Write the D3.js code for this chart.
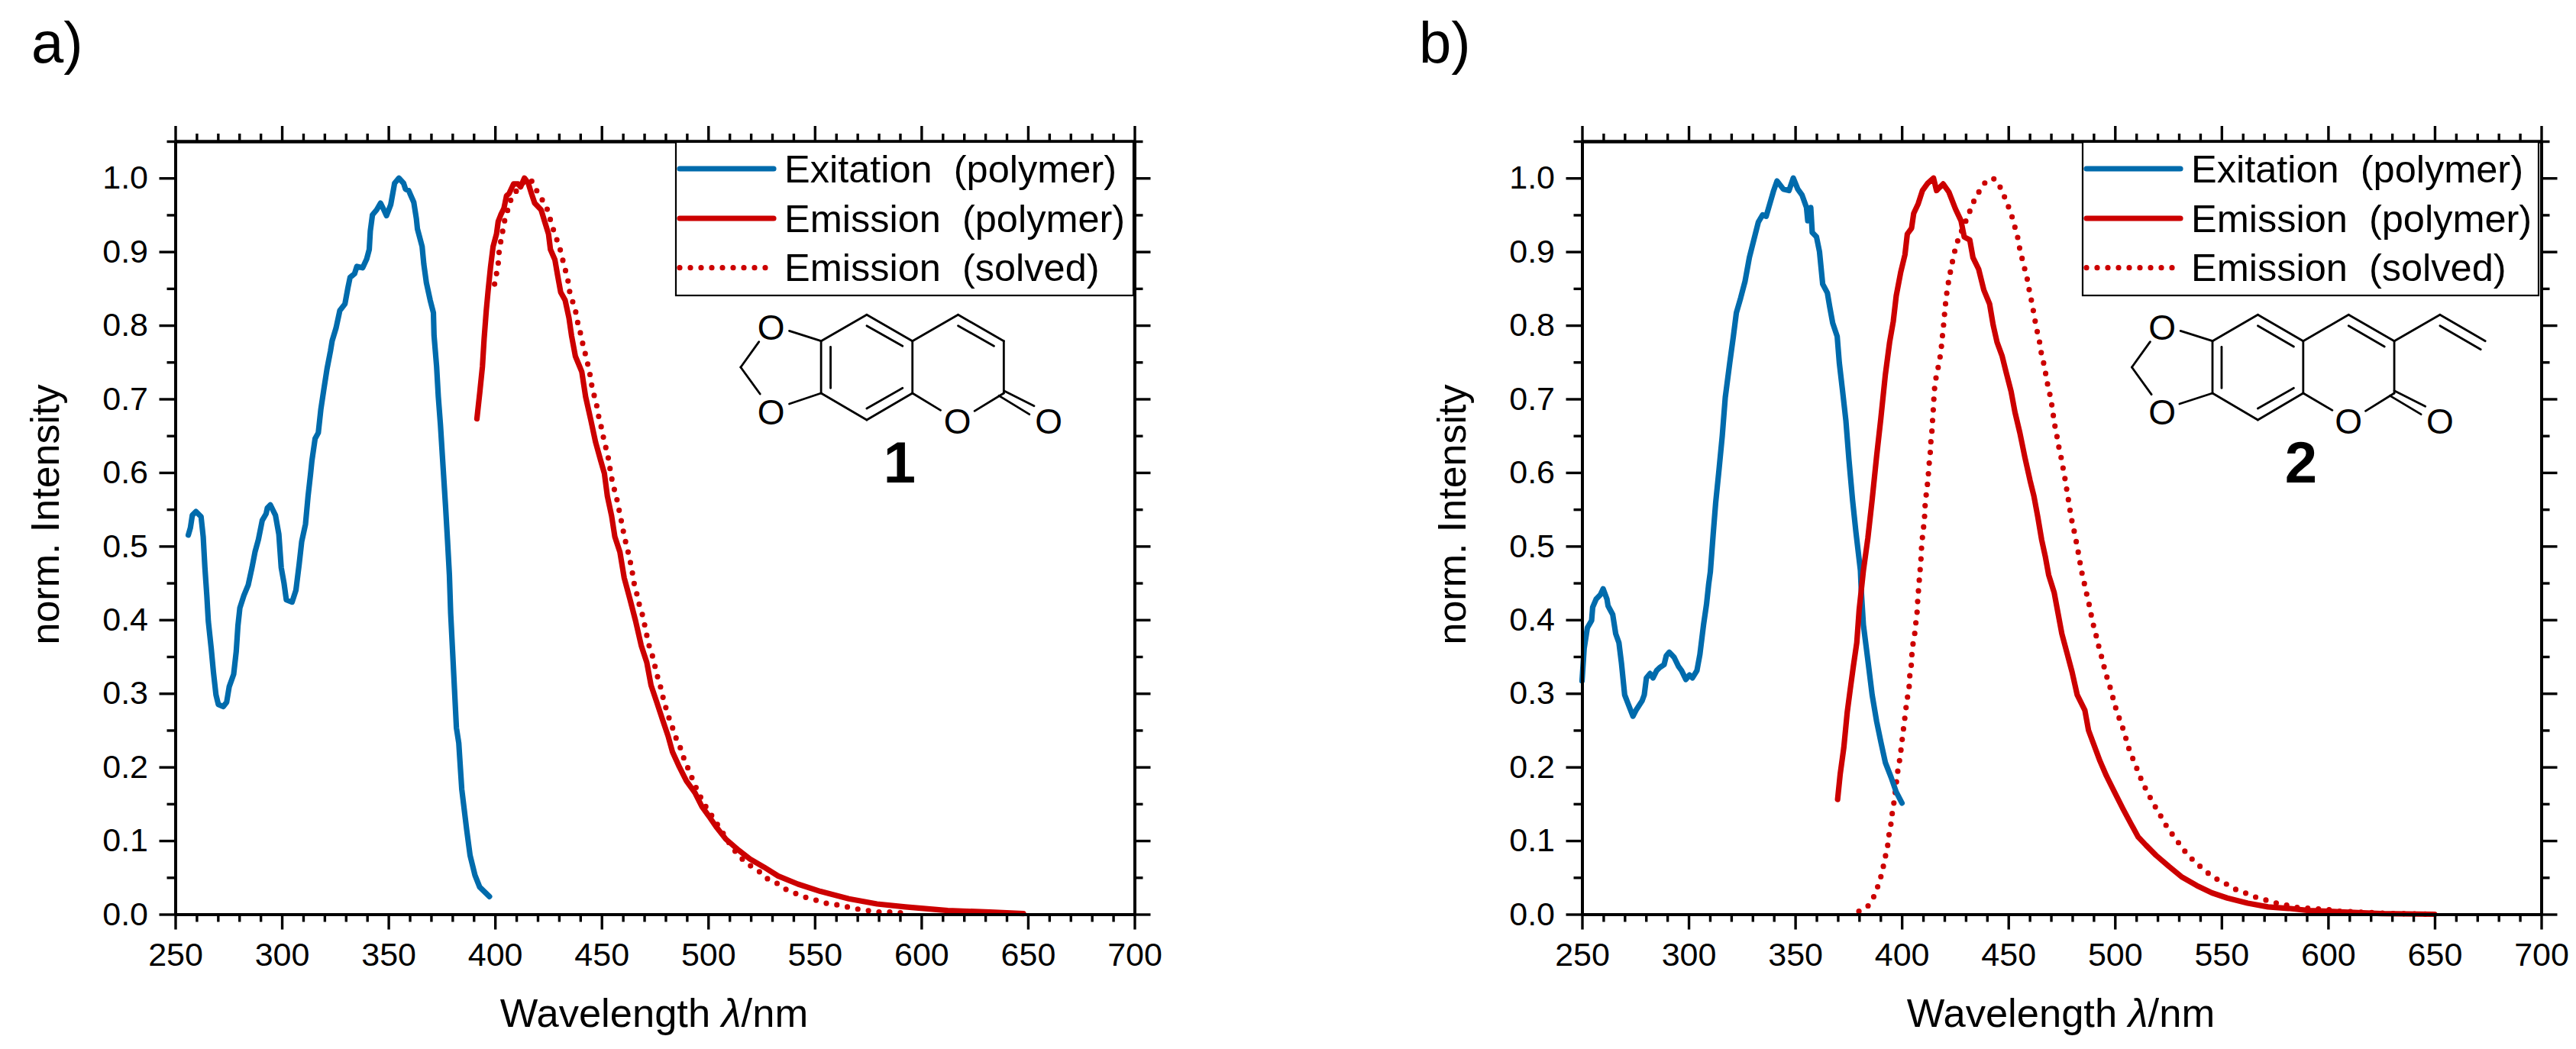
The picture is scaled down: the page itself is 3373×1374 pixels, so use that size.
<!DOCTYPE html>
<html><head><meta charset="utf-8">
<script src="https://cdnjs.cloudflare.com/ajax/libs/d3/7.8.5/d3.min.js"></script>
<style>html,body{margin:0;padding:0;background:#fff}svg{display:block}text{font-family:"Liberation Sans",Arial,sans-serif;fill:#000}</style>
</head><body><svg id="c" width="3373" height="1374"></svg>
<script>
// ---------- data: [wavelength nm, normalised intensity] ----------
const excitation1=[[256.1,.515],[257.1,.525],[258,.542],[259.7,.547],[262.1,.54],[263.1,.513],[263.9,.471],[264.8,.433],[265.5,.398],[266.9,.36],[267.9,.329],[269.1,.298],[270.2,.285],[272.5,.282],[274.1,.288],[275.3,.309],[277.4,.326],[278.6,.357],[279.4,.392],[280.3,.416],[282.2,.433],[284.2,.447],[286,.471],[287.4,.492],[289,.509],[290.8,.535],[292.6,.544],[293.2,.552],[294.6,.556],[297,.542],[298.6,.516],[299.7,.471],[301,.45],[302.1,.427],[304.8,.424],[306.6,.44],[308.1,.475],[309.3,.506],[311.1,.53],[312.3,.568],[313.5,.599],[314.1,.616],[315.6,.646],[317.1,.654],[318.3,.686],[319.7,.713],[321.2,.741],[322.8,.765],[323.6,.779],[325.4,.796],[327.2,.82],[329.6,.829],[331,.851],[332,.865],[334.1,.87],[335.2,.88],[337.9,.878],[339.8,.89],[341,.903],[341.5,.928],[342.5,.95],[344.5,.957],[346.3,.966],[347.5,.959],[349.1,.949],[351.1,.964],[352.9,.993],[354.9,1],[357.1,.993],[358,.985],[359.5,.983],[361.9,.967],[363.1,.945],[363.6,.931],[365.8,.907],[366.6,.883],[367.8,.858],[369.6,.834],[371.1,.817],[371.4,.786],[372.6,.744],[373.4,.703],[374.4,.665],[375.3,.623],[376.8,.554],[377.7,.509],[378.6,.461],[379.2,.409],[380.1,.357],[381,.305],[381.9,.253],[383,.2325],[384.4,.17],[386.7,.115],[388.3,.08],[390.6,.053],[392.8,.037],[397.4,.024]];
const emission1=[[391.5,.673],[392.9,.71],[394.1,.744],[394.9,.782],[395.9,.82],[396.8,.848],[397.9,.879],[399.1,.907],[400.7,.924],[401.5,.941],[402.7,.95],[404.2,.959],[405.4,.976],[406.6,.979],[408.7,.992],[410.8,.992],[412,.988],[413.8,1],[415.6,.993],[417.1,.979],[418.6,.966],[421.6,.957],[423.4,.94],[425.1,.924],[426,.903],[428.1,.889],[429.3,.869],[430.8,.845],[432.9,.834],[434.7,.81],[435.9,.786],[437.7,.758],[440.7,.737],[442.5,.703],[444.9,.672],[447.2,.641],[449.6,.616],[451.3,.599],[452.7,.568],[454.7,.541],[456.2,.513],[458.6,.492],[460.6,.457],[463.3,.428],[465.9,.399],[468.6,.365],[471.2,.342],[473.2,.311],[475.9,.288],[478.5,.265],[481.2,.242],[483.2,.221],[486.5,.2],[489.8,.181],[493.8,.165],[497.1,.146],[500.4,.133],[503.7,.119],[508.3,.102],[514.3,.087],[519.6,.075],[526.2,.064],[532.8,.052],[542.1,.041],[552.7,.031],[566,.021],[579.2,.014],[592.5,.01],[612.4,.005],[632.2,.003],[647.9,.001]];
const solved1=[[399.8,.856],[400.7,.87],[401.5,.884],[401.9,.899],[402.7,.914],[403.6,.928],[404.5,.942],[405.8,.955],[407.2,.969],[409.6,.981],[411.6,.988],[414,.997],[417,.997],[420.1,.98],[421.6,.973],[424,.962],[425.5,.948],[426.9,.934],[428.4,.921],[430.3,.906],[431.5,.892],[432.7,.878],[434.1,.864],[434.7,.849],[436.1,.835],[437.7,.821],[438.5,.807],[439.8,.793],[440.9,.778],[442.1,.764],[443.3,.75],[444.4,.736],[445.2,.721],[446.3,.707],[447.6,.693],[448.4,.679],[449.6,.665],[450.6,.651],[451.8,.636],[453,.622],[453.8,.608],[454.6,.594],[455.7,.58],[457,.566],[458,.552],[459,.538],[460,.523],[461,.509],[462.2,.495],[463.3,.481],[464.3,.467],[465,.452],[466.2,.44],[467.2,.425],[468.8,.411],[469.9,.397],[471,.382],[471.9,.368],[473.5,.355],[474.8,.34],[475.9,.326],[477.4,.312],[478.5,.298],[479.8,.284],[481.2,.27],[482.9,.257],[484.5,.242],[486.5,.23],[488,.216],[490,.202],[492,.188],[494,.174],[496.1,.161],[498.5,.148],[501,.137],[511.6,.089],[515.6,.076],[519.2,.067],[523.6,.059],[527.3,.049],[531.8,.043],[536.4,.034],[541.2,.028],[545.8,.023],[550.7,.019],[555.4,.015],[560,.013],[565.1,.01],[570.2,.007],[574.9,.005],[579.9,.003],[585,.003],[589.8,.002],[594.9,.002]];
const excitation2=[[250,.317],[251,.361],[252.5,.389],[254.5,.399],[255,.417],[256.6,.428],[258.6,.434],[259.9,.442],[261.7,.428],[262.2,.419],[264.4,.407],[265.8,.381],[267.3,.369],[268.5,.341],[270,.298],[271.6,.286],[273.9,.269],[275.5,.278],[278.2,.29],[279.2,.298],[280.2,.321],[281.9,.327],[283.3,.321],[285,.331],[286.4,.335],[288.5,.339],[289.5,.351],[290.9,.356],[293.2,.349],[295.2,.337],[296.7,.331],[298.7,.319],[300.4,.325],[301.8,.321],[303.9,.331],[305.3,.353],[307,.393],[308.4,.421],[309.4,.448],[310.2,.465],[311.5,.515],[312.7,.559],[314.2,.602],[315.8,.65],[317.2,.702],[319.3,.749],[321,.785],[322.4,.817],[324.4,.837],[326.5,.86],[328.5,.892],[330.6,.916],[332.7,.94],[334.7,.95],[336.4,.948],[338.4,.968],[339.9,.983],[341.5,.996],[344.4,.985],[347.1,.983],[349.1,1],[351.2,.985],[353.2,.977],[355.3,.96],[355.9,.942],[357.3,.96],[358,.926],[360,.92],[361.4,.9],[362.9,.856],[365.1,.844],[366.2,.825],[367.6,.803],[369.7,.785],[370.7,.749],[372.3,.709],[373.8,.67],[375.2,.618],[376.9,.563],[378.5,.519],[380.6,.467],[381,.44],[382,.393],[384.1,.345],[386.1,.298],[388.2,.262],[390.2,.234],[392.3,.206],[395,.186],[397.4,.166],[400.1,.151]];
const emission2=[[369.9,.156],[371.1,.19],[372.8,.226],[374.4,.274],[375.8,.305],[377.3,.337],[378.9,.369],[380,.413],[381.6,.456],[382,.467],[384.1,.511],[386.1,.563],[388.2,.622],[390.2,.674],[392.3,.733],[394.3,.777],[396,.805],[397.4,.84],[399.5,.872],[401.5,.896],[402.6,.924],[404.6,.932],[405.6,.952],[407.7,.965],[409.7,.983],[412.2,.993],[414.9,1],[416.3,.983],[419.4,.992],[422.1,.981],[425.2,.958],[427.8,.942],[429.3,.92],[431.9,.916],[433.4,.892],[436.1,.876],[438.5,.848],[441.2,.829],[442.9,.8],[444.7,.777],[447.1,.758],[448.9,.737],[451.3,.71],[453.1,.682],[455.4,.654],[457.8,.62],[460.2,.589],[462,.568],[463.8,.54],[465.6,.509],[467.4,.485],[468.9,.461],[471.5,.437],[473.3,.409],[475.1,.381],[477.5,.355],[479.9,.329],[482.3,.298],[485.9,.277],[487.6,.25],[489.4,.236],[493,.208],[496,.188],[499.6,.167],[503.8,.143],[507.3,.124],[510.9,.105],[514.5,.094],[519.3,.08],[525.3,.065],[531.2,.051],[538.4,.039],[545.5,.029],[552.7,.022],[562.3,.015],[571.8,.01],[581.4,.008],[590.9,.005],[600.5,.004],[607.6,.003],[625,.001],[650,0]];
const solved2=[[379.9,.004],[384.1,.011],[386.9,.024],[388.8,.038],[390.4,.053],[391.5,.067],[392.5,.081],[393.5,.095],[394.1,.11],[395,.124],[395.6,.139],[396.4,.153],[397,.167],[397.6,.182],[398.2,.196],[399.1,.211],[399.7,.225],[400.3,.24],[400.9,.254],[401.5,.268],[402.1,.283],[402.8,.297],[403.6,.312],[403.8,.326],[404.6,.341],[404.8,.356],[405.4,.37],[406.3,.385],[406.7,.399],[407.3,.413],[407.5,.428],[407.9,.442],[408.3,.457],[408.7,.471],[409.1,.486],[409.3,.5],[409.8,.515],[410.4,.53],[410.8,.544],[411,.559],[411.6,.573],[412.2,.588],[412.6,.602],[413,.617],[413.5,.631],[413.7,.645],[414.3,.66],[414.5,.675],[414.9,.69],[415.1,.703],[415.5,.718],[416.3,.733],[417.4,.747],[418.2,.761],[418.8,.776],[419.2,.79],[419.8,.805],[420.2,.82],[420.7,.834],[421.3,.848],[422.1,.862],[423.1,.877],[424.1,.891],[425.2,.905],[426.6,.918],[428.6,.932],[430.7,.946],[432.6,.96],[434.6,.974],[437.5,.987],[439.8,.997],[443.5,.999],[446.3,.987],[448.4,.973],[450.2,.96],[451.9,.946],[453.3,.931],[454.6,.917],[455.4,.903],[456.6,.889],[457.9,.874],[459.1,.86],[459.9,.846],[461.1,.83],[462.8,.802],[463.8,.788],[464.9,.774],[465.6,.759],[466.9,.745],[467.7,.731],[468.6,.717],[469.8,.702],[470.6,.688],[471.3,.673],[472.1,.659],[473.1,.645],[473.9,.631],[475.1,.616],[475.9,.602],[476.8,.588],[477.6,.573],[478.4,.559],[479.2,.544],[480.1,.53],[481.3,.515],[482.1,.502],[483.1,.487],[483.9,.473],[484.9,.458],[486.1,.444],[487.1,.43],[488.3,.416],[489.2,.401],[490.4,.387],[491.7,.373],[492.8,.359],[494.2,.345],[495.4,.33],[496.8,.317],[498.3,.303],[499.5,.289],[500.9,.275],[502.7,.261],[504.4,.247],[505.7,.233],[507.2,.219],[509.3,.206],[511,.192],[513,.179],[515.3,.165],[517.6,.153],[519.9,.141],[522.6,.128],[524.9,.116],[527.9,.105],[530.6,.094],[534,.081],[537.6,.071],[541.1,.062],[544.9,.053],[548.8,.046],[553,.04],[557.1,.033],[562,.028],[566.3,.023],[571.1,.019],[576,.015],[581,.012],[585.9,.009],[590.9,.008],[595.7,.007],[600.8,.006],[605.8,.004],[630,.001],[650,0]];

const xMajor=[250,300,350,400,450,500,550,600,650,700];
const xMinor=d3.range(250,701,10).filter(v=>v%50!==0);
const yMajor=[0,.1,.2,.3,.4,.5,.6,.7,.8,.9,1];
const yMinor=[.05,.15,.25,.35,.45,.55,.65,.75,.85,.95,1.05];
const legendLabels=["Exitation  (polymer)","Emission  (polymer)","Emission  (solved)"];
const xTitle="Wavelength ";
const yTitle="norm. Intensity";

// ---------- structural formula drawing, in sketch units ----------
const bonds1=[[575,890,700,787],[700,787,825,890],[825,890,825,1095],[825,1095,700,1200],[700,1200,575,1095],[575,1095,575,890],[825,890,950,787],[950,787,1075,890],[1075,890,1075,1095],[825,1095,902,1162],[995,1165,1075,1095],[700,830,798,910],[950,830,1048,910],[601,913,601,1075],[700,1155,798,1075],[1075,1085,1158,1145],[1062,1105,1145,1178],[575,890,488,850],[575,1095,488,1137],[355,993,405,893],[355,993,408,1098]];
const atoms1=[[438,835],[438,1168],[948,1205],[1198,1205]];
const bonds2=[[461,890,600,787],[600,787,739,890],[739,890,739,1095],[739,1095,600,1200],[600,1200,461,1095],[461,1095,461,890],[739,890,878,787],[878,787,1018,890],[1018,890,1018,1095],[739,1095,828,1162],[930,1165,1018,1095],[600,830,710,912],[878,830,988,912],[489,913,489,1075],[600,1155,710,1075],[1018,1085,1113,1147],[1005,1105,1100,1178],[461,890,363,850],[461,1095,360,1137],[214,993,270,893],[214,993,274,1100],[1018,890,1158,787],[1158,787,1297,890],[1158,830,1283,923]];
const atoms2=[[307,835],[307,1168],[878,1205],[1158,1205]];

const BLUE="#006bac",RED="#cc0000";
const svg=d3.select("#c");
svg.append("rect").attr("width",3373).attr("height",1374).attr("fill","#fff");
const T=185,B=1197.5,PW=1256;

function panel(o){
  const L=o.left,R=L+PW;
  const x=d3.scaleLinear().domain([250,700]).range([L,R]);
  const y=d3.scaleLinear().domain([0,1.05]).range([B,T]);
  const g=svg.append("g");
  const line=d3.line().x(d=>x(d[0])).y(d=>y(d[1]));
  const series=[[o.solved,RED,true],[o.excitation,BLUE,false],[o.emission,RED,false]];
  series.forEach(([d,c,dot])=>{
    const p=g.append("path").datum(d).attr("d",line).attr("fill","none").attr("stroke",c)
     .attr("stroke-linejoin","round").attr("stroke-linecap","round");
    if(dot)p.attr("stroke-width",7.2).attr("stroke-dasharray","0 14");else p.attr("stroke-width",7.2);
  });
  function ax(gen,tf,vals,size,labels,pad){
    const a=gen.tickValues(vals).tickSizeInner(size).tickSizeOuter(0).tickPadding(pad||0)
      .tickFormat(labels?labels:"");
    const s=g.append("g").attr("transform",tf).call(a);
    s.selectAll("line").attr("stroke","#000").attr("stroke-width",3.4);
    s.select(".domain").attr("stroke","#000").attr("stroke-width",3.8);
    s.selectAll("text").attr("font-size",43).attr("font-family",'"Liberation Sans"');
  }
  const f=d3.format(".1f");
  ax(d3.axisBottom(x),`translate(0,${B})`,xMajor,20,d=>d,16.5);
  ax(d3.axisBottom(x),`translate(0,${B})`,xMinor,10);
  ax(d3.axisTop(x),`translate(0,${T})`,xMajor,20);
  ax(d3.axisTop(x),`translate(0,${T})`,xMinor,10);
  ax(d3.axisLeft(y),`translate(${L},0)`,yMajor,21,f,14.5);
  ax(d3.axisLeft(y),`translate(${L},0)`,yMinor,11);
  ax(d3.axisRight(y),`translate(${R},0)`,yMajor,21);
  ax(d3.axisRight(y),`translate(${R},0)`,yMinor,11);

  // titles
  const xt=g.append("text").attr("x",L+627).attr("y",1345).attr("text-anchor","middle").attr("font-size",52.5);
  xt.append("tspan").text(xTitle);
  xt.append("tspan").attr("font-style","italic").text("λ");
  xt.append("tspan").text("/nm");
  g.append("text").attr("transform",`translate(${L-153},674) rotate(-90)`).attr("text-anchor","middle").attr("font-size",52).text(yTitle);
  g.append("text").attr("x",o.tagX).attr("y",82).attr("font-size",76).text(o.tag);

  // legend
  g.append("rect").attr("x",o.legL).attr("y",T+1).attr("width",o.legR-o.legL).attr("height",387-T-1)
    .attr("fill","#fff").attr("stroke","#000").attr("stroke-width",2.2);
  const ly=[221,286,350.7],colors=[BLUE,RED,RED];
  legendLabels.forEach((t,i)=>{
    const l=g.append("line").attr("x1",o.legL+5).attr("x2",o.legL+128).attr("y1",ly[i]).attr("y2",ly[i])
      .attr("stroke",colors[i]).attr("stroke-linecap","round");
    l.attr("stroke-width",7.2);
    if(i===2)l.attr("stroke-dasharray","0 14");
    g.append("text").attr("x",o.legL+142).attr("y",ly[i]+17.5).attr("font-size",o.legFont).style("white-space","pre").text(t);
  });

  // structure
  const mx=d3.scaleLinear().domain([0,1]).range([o.molX,o.molX+1/o.molSx]);
  const my=d3.scaleLinear().domain([0,3]).range([150,151]);
  const m=g.append("g");
  m.selectAll("line").data(o.bonds).join("line")
    .attr("x1",d=>mx(d[0])).attr("y1",d=>my(d[1])).attr("x2",d=>mx(d[2])).attr("y2",d=>my(d[3]))
    .attr("stroke","#000").attr("stroke-width",2.8).attr("stroke-linecap","round");
  m.selectAll("text").data(o.atoms).join("text")
    .attr("x",d=>mx(d[0])).attr("y",d=>my(d[1])+16.5).attr("text-anchor","middle").attr("font-size",46).text("O");
  g.append("text").attr("x",o.numX).attr("y",632).attr("text-anchor","middle").attr("font-size",76).attr("font-weight","bold").text(o.num);
}

panel({left:229.5,excitation:excitation1,emission:emission1,solved:solved1,tag:"a)",tagX:41,legL:885,legR:1484,legFont:50.5,
  molX:800,molSx:2.09,bonds:bonds1,atoms:atoms1,num:"1",numX:1178});
panel({left:2071.5,excitation:excitation2,emission:emission2,solved:solved2,tag:"b)",tagX:1858,legL:2727,legR:3324,legFont:50.5,
  molX:2700,molSx:2.34,bonds:bonds2,atoms:atoms2,num:"2",numX:3013});
</script></body></html>
